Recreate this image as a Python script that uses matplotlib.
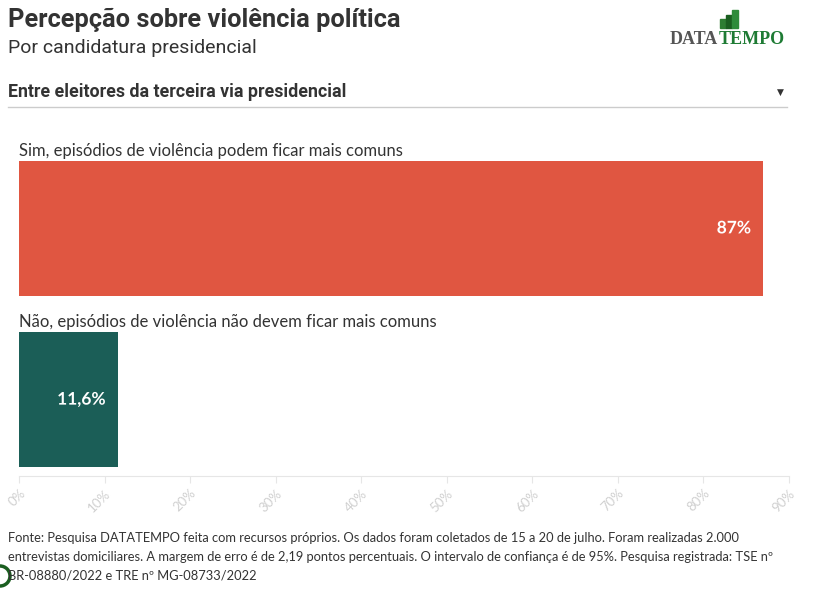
import matplotlib.pyplot as plt
import matplotlib.patheffects as pe
from matplotlib.patches import Rectangle, Ellipse

# data
categories = ['Sim, episódios de violência podem ficar mais comuns',
              'Não, episódios de violência não devem ficar mais comuns']
values = [87, 11.6]
value_labels = ['87%', '11,6%']
bar_colors = ['#E05641', '#1B5E57']
xticks = [0, 10, 20, 30, 40, 50, 60, 70, 80, 90]

title = 'Percepção sobre violência política'
subtitle = 'Por candidatura presidencial'
dropdown = 'Entre eleitores da terceira via presidencial'
source_lines = [
    'Fonte: Pesquisa DATATEMPO feita com recursos próprios. Os dados foram coletados de 15 a 20 de julho. Foram realizadas 2.000',
    'entrevistas domiciliares. A margem de erro é de 2,19 pontos percentuais. O intervalo de confiança é de 95%. Pesquisa registrada: TSE nº',
    'BR-08880/2022 e TRE nº MG-08733/2022',
]

W, H = 813, 595
plt.rcParams['font.family'] = ['Lato', 'DejaVu Sans']
fig = plt.figure(figsize=(W / 100, H / 100), dpi=100)
fig.patch.set_facecolor('white')

def fx(px):
    return px / W

def fy(py):
    return 1 - py / H

# header
fig.text(fx(8), fy(20), title, fontsize=18.3, fontweight='bold', color='#333333',
         family=['Roboto', 'DejaVu Sans'], va='center')
fig.text(fx(8), fy(48), subtitle, fontsize=14, color='#333333',
         family=['Roboto', 'DejaVu Sans'], va='center')
fig.text(fx(8), fy(92), dropdown, fontsize=12.8, fontweight='bold', color='#333333',
         family=['Roboto', 'DejaVu Sans'], va='center')
fig.text(fx(780), fy(92), '▼', fontsize=6.5, color='#333333', ha='center', va='center',
         family=['DejaVu Sans'])
fig.add_artist(plt.Line2D([fx(8), fx(787)], [fy(107), fy(107)], color='#cccccc', lw=1))

# logo
for x0, hh, c in [(720, 9, '#2e7d32'), (726, 13, '#1b5e20'), (732, 18, '#2e8b3a')]:
    fig.add_artist(Rectangle((fx(x0), fy(28)), fx(5.5), hh / H, color=c))
r = fig.canvas.get_renderer()
t1 = fig.text(fx(670), fy(39), 'DATA', fontsize=13, fontweight='bold', color='#555555',
              family=['Liberation Serif'], va='center')
bb = t1.get_window_extent(renderer=r)
fig.text(bb.x1 / W, fy(39), 'TEMPO', fontsize=13, fontweight='bold', color='#1e7b34',
         family=['Liberation Serif'], va='center')

# chart
ax = fig.add_axes([fx(19), fy(476), fx(789) - fx(19), (476 - 142.75) / H])
ypos = list(range(len(values)))
ax.barh(ypos, values, height=0.787, color=bar_colors)
ax.set_xlim(0, 90)
ax.set_ylim(1.446, -0.5)
ax.set_yticks([])
ax.set_xticks(xticks)
ax.set_xticklabels([f'{t}%' for t in xticks], rotation=45, ha='right',
                   rotation_mode='anchor', fontsize=9.5, color='#d0d0d0')
ax.tick_params(axis='x', length=5, color='#e6e6e6', pad=3)
for s in ['top', 'right', 'left']:
    ax.spines[s].set_visible(False)
ax.spines['bottom'].set_color('#e6e6e6')

for y, v, lab, cat, c in zip(ypos, values, value_labels, categories, bar_colors):
    ax.annotate(cat, xy=(0, y - 0.787 / 2), xytext=(0, 1.5), textcoords='offset points',
                ha='left', va='bottom', fontsize=12, color='#333333')
    ax.annotate(lab, xy=(v, y), xytext=(-9, 0), textcoords='offset points',
                ha='right', va='center', fontsize=12.5, fontweight='bold', color='white',
                path_effects=[pe.withStroke(linewidth=2.5, foreground=c)])

# footer
for i, line in enumerate(source_lines):
    fig.text(fx(8), fy(538 + i * 19), line, fontsize=9.3, color='#333333', va='center')
fig.add_artist(Ellipse((fx(0), fy(576)), 20 / W, 20 / H, facecolor='white',
                       edgecolor='#1b5e20', lw=2.5, transform=fig.transFigure))

fig.savefig('out.png', dpi=100)
